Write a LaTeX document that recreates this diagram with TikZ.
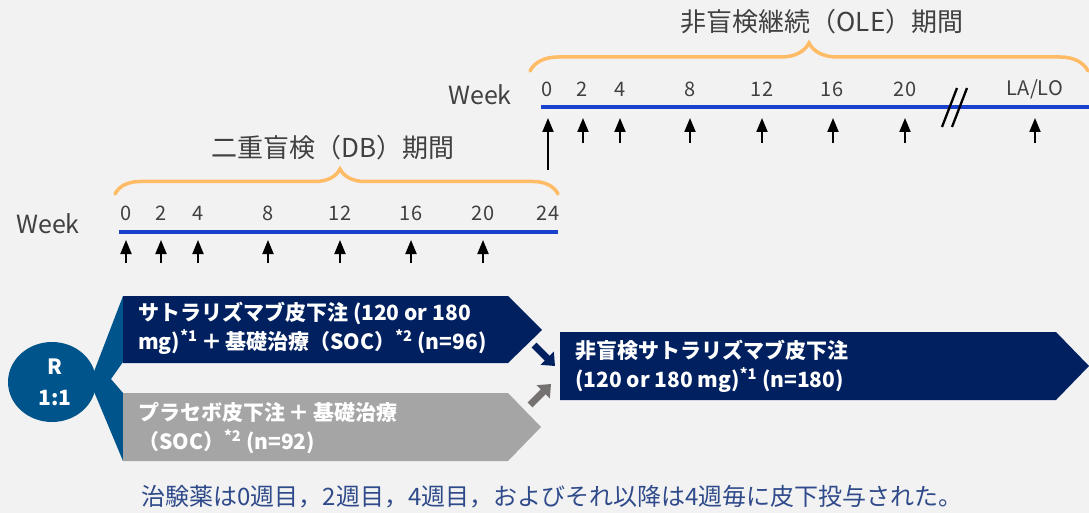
\documentclass[tikz,border=0pt]{standalone}
\usepackage{fontspec}
\setmainfont{Noto Sans CJK JP}
\usetikzlibrary{arrows.meta,decorations.pathreplacing}
\definecolor{bg}{HTML}{F2F2F2}
\definecolor{navy}{HTML}{002060}
\definecolor{rblue}{HTML}{00548C}
\definecolor{boxgray}{HTML}{A5A5A5}
\definecolor{arrgray}{HTML}{767171}
\definecolor{bracecol}{HTML}{FFBB66}
\definecolor{tlblue}{HTML}{1A41CC}
\definecolor{txt}{HTML}{404040}
\definecolor{notecol}{HTML}{2F4A8A}
\tikzset{
  bracedeco/.style={draw=bracecol, line width=3.5pt, line cap=round, decorate},
  tline/.style={draw=tlblue, line width=4pt},
  wklabel/.style={text=txt, font=\fontsize{25}{30}\selectfont, inner sep=0pt},
  numlabel/.style={text=txt, font=\fontsize{20}{24}\selectfont, inner sep=0pt},
  titlelabel/.style={text=txt, font=\fontsize{26}{30}\selectfont, inner sep=0pt},
  doseArrow/.style={-{Triangle[length=14pt,width=11pt]}, line width=2pt, black},
  boxtext/.style={text=white, font=\bfseries\fontsize{21}{29}\selectfont, align=left, anchor=west, inner sep=0pt},
  blockarrow/.style={-{Triangle[length=11pt,width=18pt]}, line width=7pt},
}
\begin{document}
\begin{tikzpicture}[x=1pt,y=-1pt]
\fill[bg] (0,0) rectangle (1089,513);
\useasboundingbox (0,0) rectangle (1089,513);

% ---------- OLE period ----------
\node[titlelabel] (oletitle) at (822,22) {非盲検継続（OLE）期間};
\coordinate (obl) at (530,71);
\coordinate (obr) at (1088,71);
\draw[bracedeco, decoration={brace, amplitude=28pt}] (obl) -- (obr);
\node[wklabel] (oleweek) at (480,95) {Week};
\coordinate (ols) at (541,107);
\coordinate (ole) at (1089,107);
\draw[tline] (ols) -- (ole);
\foreach \x/\t/\n in {547/0/a,582/2/b,620/4/c,690/8/d,762/12/e,832/16/f,905/20/g,1035/LA\slash LO/h}
  \node[numlabel] (olab\n) at (\x,89) {\t};
\foreach \x/\n in {583/b,620/c,690/d,762/e,833/f,905/g,1035/h}{
  \coordinate (otail\n) at (\x,143);
  \coordinate (ohead\n) at (\x,118);
  \draw[doseArrow] (otail\n) -- (ohead\n);
}
\coordinate (otaila) at (548,170);
\coordinate (oheada) at (548,118);
\draw[doseArrow] (otaila) -- (oheada);
% break mark
\coordinate (s1a) at (957,88); \coordinate (s1b) at (942,127);
\coordinate (s2a) at (967,88); \coordinate (s2b) at (952,127);
\draw[line width=2.3pt] (s1a) -- (s1b);
\draw[line width=2.3pt] (s2a) -- (s2b);

% ---------- DB period ----------
\node[titlelabel] (dbtitle) at (333,148) {二重盲検（DB）期間};
\coordinate (dbl) at (115,194);
\coordinate (dbr) at (558,194);
\draw[bracedeco, decoration={brace, amplitude=25pt, aspect=0.508}] (dbl) -- (dbr);
\node[wklabel] (dbweek) at (48,224) {Week};
\coordinate (dls) at (119,232);
\coordinate (dle) at (558,232);
\draw[tline] (dls) -- (dle);
\foreach \x/\t/\n in {126/0/a,161/2/b,198/4/c,268/8/d,340/12/e,411/16/f,483/20/g,548/24/h}
  \node[numlabel] (dlab\n) at (\x,213) {\t};
\foreach \x/\n in {126/a,161/b,198/c,268/d,340/e,411/f,483/g}{
  \coordinate (dtail\n) at (\x,263);
  \coordinate (dhead\n) at (\x,240);
  \draw[doseArrow] (dtail\n) -- (dhead\n);
}

% ---------- randomisation ----------
\fill[rblue] (123,296) -- (90,382) -- (123,461) -- (123,393) -- (111,379) -- (123,362) -- cycle;
\fill[rblue] (52,382) ellipse [x radius=44, y radius=40];
\node[text=white, font=\bfseries\fontsize{21}{31}\selectfont, align=center, inner sep=0pt] (rnode) at (55,382) {R\\1:1};

% arms
\fill[navy] (123,296) -- (508,296) -- (542,330) -- (508,363) -- (123,363) -- cycle;
\node[boxtext] (armA) at (138,328) {サトラリズマブ皮下注 (120 or 180\\mg)\textsuperscript{*1}\,＋\,基礎治療（SOC）\textsuperscript{*2} (n=96)};
\fill[boxgray] (123,393) -- (508,393) -- (541,427) -- (508,461) -- (123,461) -- cycle;
\node[boxtext] (armB) at (138,428) {プラセボ皮下注\,＋\,基礎治療\\（SOC）\textsuperscript{*2} (n=92)};

% OLE arm
\fill[navy] (560,332) -- (1056,332) -- (1089,366) -- (1056,400) -- (560,400) -- cycle;
\node[boxtext] (armC) at (575,366) {非盲検サトラリズマブ皮下注\\(120 or 180 mg)\textsuperscript{*1} (n=180)};

% transition arrows
\coordinate (na1) at (534,345); \coordinate (na2) at (555,366);
\draw[blockarrow, navy] (na1) -- (na2);
\coordinate (ga1) at (530,405); \coordinate (ga2) at (551,384);
\draw[blockarrow, arrgray] (ga1) -- (ga2);

% note
\node[text=notecol, font=\fontsize{24}{28}\selectfont, inner sep=0pt] (note) at (552,497) {治験薬は0週目，2週目，4週目，およびそれ以降は4週毎に皮下投与された。};
\end{tikzpicture}
\end{document}
